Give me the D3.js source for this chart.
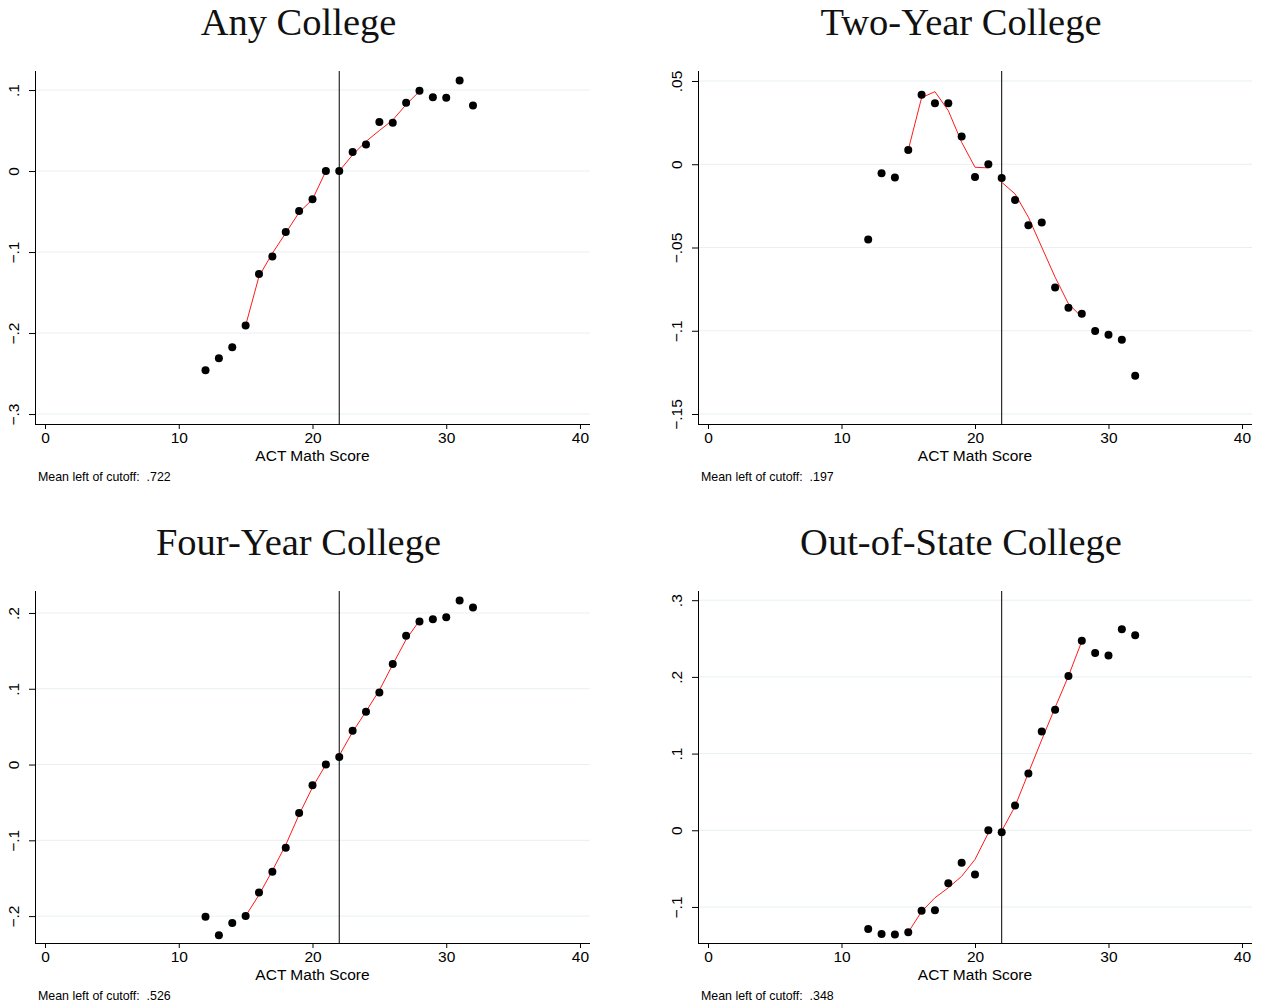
<!DOCTYPE html>
<html>
<head>
<meta charset="utf-8">
<script src="https://cdn.jsdelivr.net/npm/d3@7"></script>
<style>
  body { margin: 0; background: #fff; }
  svg { display: block; }
</style>
</head>
<body>
<svg width="1267" height="1007"></svg>
<script>
// ACT math score bins and the cutoff
var scores = [12,13,14,15,16,17,18,19,20,21,22,23,24,25,26,27,28,29,30,31,32];
var fitLeftX = [15,16,17,18,19,20,21];
var fitRightX = [22,23,24,25,26,27,28];
var cutoff = 22;
var xTicks = [0,10,20,30,40];

// Any College
var anyPts = [-0.246,-0.231,-0.2175,-0.1907,-0.127,-0.1056,-0.0752,-0.0493,-0.0349,0.000,0.000,0.0234,0.0329,0.0604,0.0596,0.0843,0.0991,0.0912,0.0904,0.1118,0.081];
var anyFitL = [-0.1907,-0.130,-0.1015,-0.0765,-0.051,-0.035,0.000];
var anyFitR = [0.000,0.020,0.0365,0.050,0.063,0.082,0.0985];
var anyTicks = [-0.3,-0.2,-0.1,0,0.1];

// Two-Year College
var twoPts = [-0.0452,-0.0054,-0.008,0.0086,0.0418,0.0366,0.0366,0.0166,-0.0076,0.000,-0.0082,-0.0214,-0.0366,-0.035,-0.074,-0.0862,-0.0898,-0.1002,-0.1024,-0.1054,-0.127];
var twoFitL = [0.0086,0.040,0.0436,0.0322,0.0132,-0.0018,-0.0022];
var twoFitR = [-0.0108,-0.0178,-0.0318,-0.0498,-0.0678,-0.0838,-0.0918];
var twoTicks = [-0.15,-0.1,-0.05,0,0.05];

// Four-Year College
var fourPts = [-0.201,-0.2254,-0.209,-0.1998,-0.169,-0.1416,-0.1098,-0.0639,-0.0273,0.000,0.0101,0.0445,0.0697,0.0952,0.1327,0.1698,0.1888,0.1918,0.1945,0.2166,0.2073];
var fourFitL = [-0.1998,-0.172,-0.140,-0.106,-0.066,-0.030,0.000];
var fourFitR = [0.012,0.043,0.070,0.098,0.132,0.165,0.190];
var fourTicks = [-0.2,-0.1,0,0.1,0.2];

// Out-of-State College
var outPts = [-0.1287,-0.1352,-0.136,-0.133,-0.1048,-0.1043,-0.0691,-0.0422,-0.0578,0.000,-0.0026,0.0322,0.0739,0.1287,0.157,0.2013,0.247,0.2313,0.2278,0.2622,0.2543];
var outFitL = [-0.133,-0.106,-0.088,-0.075,-0.060,-0.038,-0.0035];
var outFitR = [-0.001,0.0313,0.0748,0.118,0.160,0.201,0.2465];
var outTicks = [-0.1,0,0.1,0.2,0.3];

var titles = ["Any College","Two-Year College","Four-Year College","Out-of-State College"];
var notes = [".722",".197",".526",".348"];

var svg = d3.select("svg");

// panel boxes: left, right, top, bottom of plot region, y domain
var panels = [
	{ left: 35, right: 590, top: 71, bottom: 424, ydom: [-0.3123, 0.1235], pts: anyPts, fl: anyFitL, fr: anyFitR, ticks: anyTicks },
	{ left: 698, right: 1252, top: 71, bottom: 424, ydom: [-0.156, 0.056], pts: twoPts, fl: twoFitL, fr: twoFitR, ticks: twoTicks },
	{ left: 35, right: 590, top: 591, bottom: 943, ydom: [-0.2355, 0.229], pts: fourPts, fl: fourFitL, fr: fourFitR, ticks: fourTicks },
	{ left: 698, right: 1252, top: 591, bottom: 943, ydom: [-0.147, 0.312], pts: outPts, fl: outFitL, fr: outFitR, ticks: outTicks }
];

//Stata style tick labels: no leading zero, real minus sign
function fmtY(v){
	if(v == 0) return "0";
	var s = String(Math.abs(v)).replace(/^0/, "");
	return (v < 0 ? "\u2212" : "") + s;
}

var sans = "Liberation Sans, Arial, Helvetica, sans-serif";

panels.forEach(function(p, i){
	var x = d3.scaleLinear().domain([-0.75, 40.75]).range([p.left, p.right]);
	var y = d3.scaleLinear().domain(p.ydom).range([p.bottom, p.top]);
	var g = svg.append("g");

	//gridlines
	g.append("g").selectAll("line")
		.data(p.ticks)
		.enter().append("line")
		.attr("x1", p.left).attr("x2", p.right)
		.attr("y1", function(d){ return y(d); })
		.attr("y2", function(d){ return y(d); })
		.attr("stroke", "#e8f0f2")
		.attr("stroke-width", 1);

	//title
	g.append("text")
		.attr("x", (p.left + p.right) / 2 - 14)
		.attr("y", p.top - 36)
		.attr("text-anchor", "middle")
		.attr("font-family", "Liberation Serif, Times New Roman, serif")
		.attr("font-size", 38.5)
		.attr("fill", "#111")
		.text(titles[i]);

	//y axis
	var yAxis = d3.axisLeft(y).tickValues(p.ticks).tickSize(6).tickSizeOuter(0).tickFormat(fmtY);
	var ya = g.append("g").attr("transform", "translate(" + p.left + ",0)").call(yAxis);
	ya.select(".domain").attr("d", "M0.5," + p.top + "V" + p.bottom).attr("stroke", "#000");
	ya.selectAll(".tick line").attr("stroke", "#000");
	ya.selectAll(".tick text")
		.attr("x", 0).attr("dy", 0)
		.attr("transform", "translate(-20,0) rotate(-90)")
		.attr("text-anchor", "middle")
		.attr("dominant-baseline", "middle")
		.attr("font-family", sans)
		.attr("font-size", 15.5)
		.attr("fill", "#000");

	//x axis
	var xAxis = d3.axisBottom(x).tickValues(xTicks).tickSize(5).tickSizeOuter(0);
	var xa = g.append("g").attr("transform", "translate(0," + p.bottom + ")").call(xAxis);
	xa.select(".domain").attr("d", "M" + p.left + ",0.5H" + p.right).attr("stroke", "#000");
	xa.selectAll(".tick line").attr("stroke", "#000");
	xa.selectAll(".tick text")
		.attr("y", 8)
		.attr("font-family", sans)
		.attr("font-size", 15.5)
		.attr("fill", "#000");

	g.append("text")
		.attr("x", x(20))
		.attr("y", p.bottom + 37)
		.attr("text-anchor", "middle")
		.attr("font-family", sans)
		.attr("font-size", 15.5)
		.attr("fill", "#000")
		.text("ACT Math Score");

	g.append("text")
		.attr("x", p.left + 3)
		.attr("y", p.bottom + 57)
		.attr("font-family", sans)
		.attr("font-size", 12.4)
		.attr("fill", "#000")
		.attr("xml:space", "preserve")
		.text("Mean left of cutoff:  " + notes[i]);

	//cutoff line
	g.append("line")
		.attr("x1", x(cutoff)).attr("x2", x(cutoff))
		.attr("y1", p.top).attr("y2", p.bottom)
		.attr("stroke", "#000")
		.attr("stroke-width", 1);

	//fitted lines, one each side of the cutoff
	var line = d3.line()
		.x(function(d){ return x(d[0]); })
		.y(function(d){ return y(d[1]); });
	[[fitLeftX, p.fl], [fitRightX, p.fr]].forEach(function(f){
		g.append("path")
			.datum(d3.zip(f[0], f[1]))
			.attr("d", line)
			.attr("fill", "none")
			.attr("stroke", "#ff1a1a")
			.attr("stroke-width", 1);
	});

	//bin means
	g.append("g").selectAll("circle")
		.data(d3.zip(scores, p.pts))
		.enter().append("circle")
		.attr("cx", function(d){ return x(d[0]); })
		.attr("cy", function(d){ return y(d[1]); })
		.attr("r", 4)
		.attr("fill", "#000");
});
</script>
</body>
</html>
